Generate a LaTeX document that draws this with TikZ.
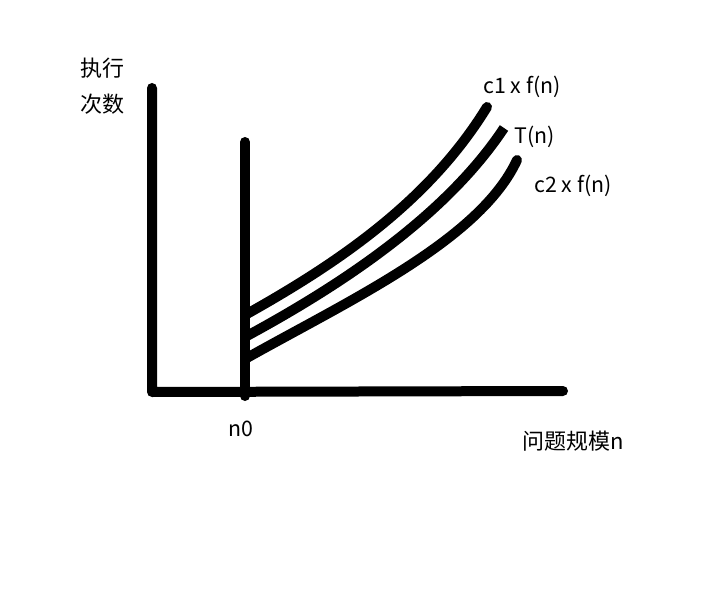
\documentclass[tikz,border=0pt]{standalone}
\usepackage{fontspec}
\setmainfont{Noto Sans CJK SC}
\usetikzlibrary{positioning}

\tikzset{
  axisline/.style={line width=7.5pt, line cap=round, line join=round},
  curveline/.style={line width=7.5pt, line cap=round},
  lbl/.style={inner sep=0pt, font=\fontsize{16}{19}\selectfont},
  cjklbl/.style={inner sep=0pt, font=\fontsize{16.5}{20}\selectfont}
}

\begin{document}
\begin{tikzpicture}[x=0.75pt, y=-0.75pt]
            \useasboundingbox (0,0) rectangle (710,599);

            % Axes
            \coordinate (origin) at (152,392);
            \coordinate (ytop) at (152,88);
            \coordinate (xend) at (563,391);
            \draw[axisline] (ytop) -- (origin) -- (xend);

            % n0 marker
            \coordinate (ntop) at (245,142);
            \coordinate (nbot) at (245,396);

            % Curves
            \coordinate (c1start) at (245,315);
            \coordinate (c1end) at (487,107);
            \coordinate (tstart) at (245,337);
            \coordinate (tend) at (504,128);
            \coordinate (c2start) at (245,359);
            \coordinate (c2end) at (517,160);
            \draw[curveline] (c1start) .. controls (340,262) and (430,200) .. (c1end);
            \draw[curveline, line cap=butt] (tstart) .. controls (345,283) and (447,214) .. (tend);
            \draw[curveline] (c2start) .. controls (350,300) and (480,240) .. (c2end);
            % n0 marker over curve starts
            \draw[axisline] (ntop) -- (nbot);

            % Labels
            \node[cjklbl] (exec) at (102,68) {执行};
            \node[cjklbl] (count) at (102,104) {次数};
            \node[lbl] (c1lbl) at (522,87) {c1 x f(n)};
            \node[lbl] (tlbl) at (535,137) {T(n)};
            \node[lbl] (c2lbl) at (573,186) {c2 x f(n)};
            \node[lbl] (n0lbl) at (241,429) {n0};
            \node[cjklbl] (xlbl) at (573,441) {问题规模n};
        \end{tikzpicture}
\end{document}
